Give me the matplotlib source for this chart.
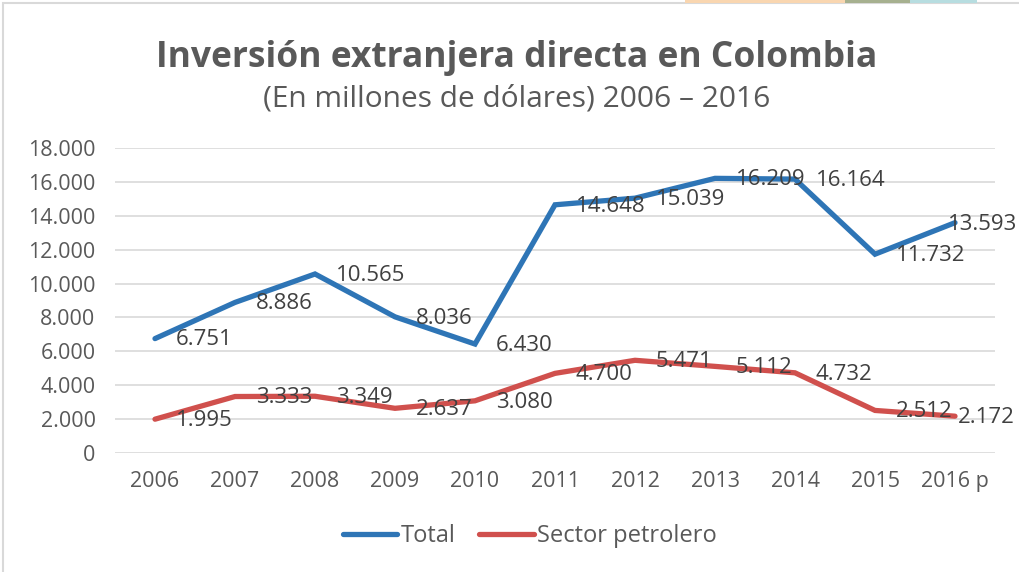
import matplotlib
matplotlib.use("Agg")
import matplotlib.pyplot as plt
from matplotlib.patches import Rectangle
from matplotlib.lines import Line2D

years = ["2006", "2007", "2008", "2009", "2010", "2011", "2012", "2013", "2014", "2015", "2016 p"]
total = [6751, 8886, 10565, 8036, 6430, 14648, 15039, 16209, 16164, 11732, 13593]
petrolero = [1995, 3333, 3349, 2637, 3080, 4700, 5471, 5112, 4732, 2512, 2172]
yticks = [0, 2000, 4000, 6000, 8000, 10000, 12000, 14000, 16000, 18000]

FONT = ["Open Sans", "DejaVu Sans"]
plt.rcParams["font.family"] = FONT
TXT = "#595959"
BLUE = "#2E75B6"
RED = "#D0504D"

W, H = 1020, 572
fig = plt.figure(figsize=(W / 100, H / 100), dpi=100)

def fx(px):
    return px / W

def fy(py):
    return 1 - py / H

# frame and top strip
fig.patches.append(Rectangle((fx(3), fy(600)), fx(1100), fy(3) - fy(600), transform=fig.transFigure,
                             fill=False, edgecolor="#D9D9D9", linewidth=1.5))
for x0, x1, c in [(685, 845, "#F9D6B0"), (845, 910, "#A6B08F"), (910, 977, "#B7DDE0")]:
    fig.patches.append(Rectangle((fx(x0), fy(3)), fx(x1 - x0), fy(0) - fy(3), transform=fig.transFigure,
                                 facecolor=c, edgecolor="none"))

ax = fig.add_axes([fx(115), fy(453), fx(995 - 115), fy(148) - fy(453)])
x = list(range(len(years)))
ax.plot(x, total, color=BLUE, lw=3.8, solid_capstyle="round", solid_joinstyle="miter", zorder=3)
ax.plot(x, petrolero, color=RED, lw=3.8, solid_capstyle="round", solid_joinstyle="miter", zorder=3)

def fmt(v):
    return f"{v:,}".replace(",", ".")

n = len(years)
for vs, last_dx in ((total, -5), (petrolero, 2)):
    for xi, v in zip(x, vs):
        dx = 15 if xi < n - 1 else last_dx
        ax.annotate(fmt(v), (xi, v), xytext=(dx, -1), textcoords="offset points",
                    ha="left", va="center", fontsize=16, color="#404040", zorder=4,
                    annotation_clip=False)

ax.set_xlim(-0.5, n - 0.5)
ax.set_ylim(0, 18000)
ax.set_yticks(yticks)
ax.set_yticklabels([fmt(v) for v in yticks], fontsize=15.5, color=TXT)
ax.set_xticks(x)
ax.set_xticklabels(years, fontsize=15.5, color=TXT)
ax.tick_params(length=0)
ax.tick_params(axis="x", pad=13)
ax.tick_params(axis="y", pad=14)
ax.grid(axis="y", color="#D9D9D9", lw=1.2)
ax.set_axisbelow(True)
for s in ax.spines.values():
    s.set_visible(False)

fig.text(fx(517), fy(58), "Inversión extranjera directa en Colombia", ha="center", va="center",
         fontsize=25.5, fontweight="bold", color=TXT)
fig.text(fx(517), fy(99), "(En millones de dólares) 2006 – 2016", ha="center", va="center",
         fontsize=21.5, color=TXT)

handles = [Line2D([], [], color=BLUE, lw=3.8, solid_capstyle="round"),
           Line2D([], [], color=RED, lw=3.8, solid_capstyle="round")]
leg = fig.legend(handles, ["Total", "Sector petrolero"], loc="center", bbox_to_anchor=(fx(530), fy(536)),
                 ncol=2, frameon=False, fontsize=17, handlelength=2.3, handletextpad=0.15,
                 columnspacing=1.0)
for t in leg.get_texts():
    t.set_color(TXT)

fig.savefig("out.png", dpi=100)
